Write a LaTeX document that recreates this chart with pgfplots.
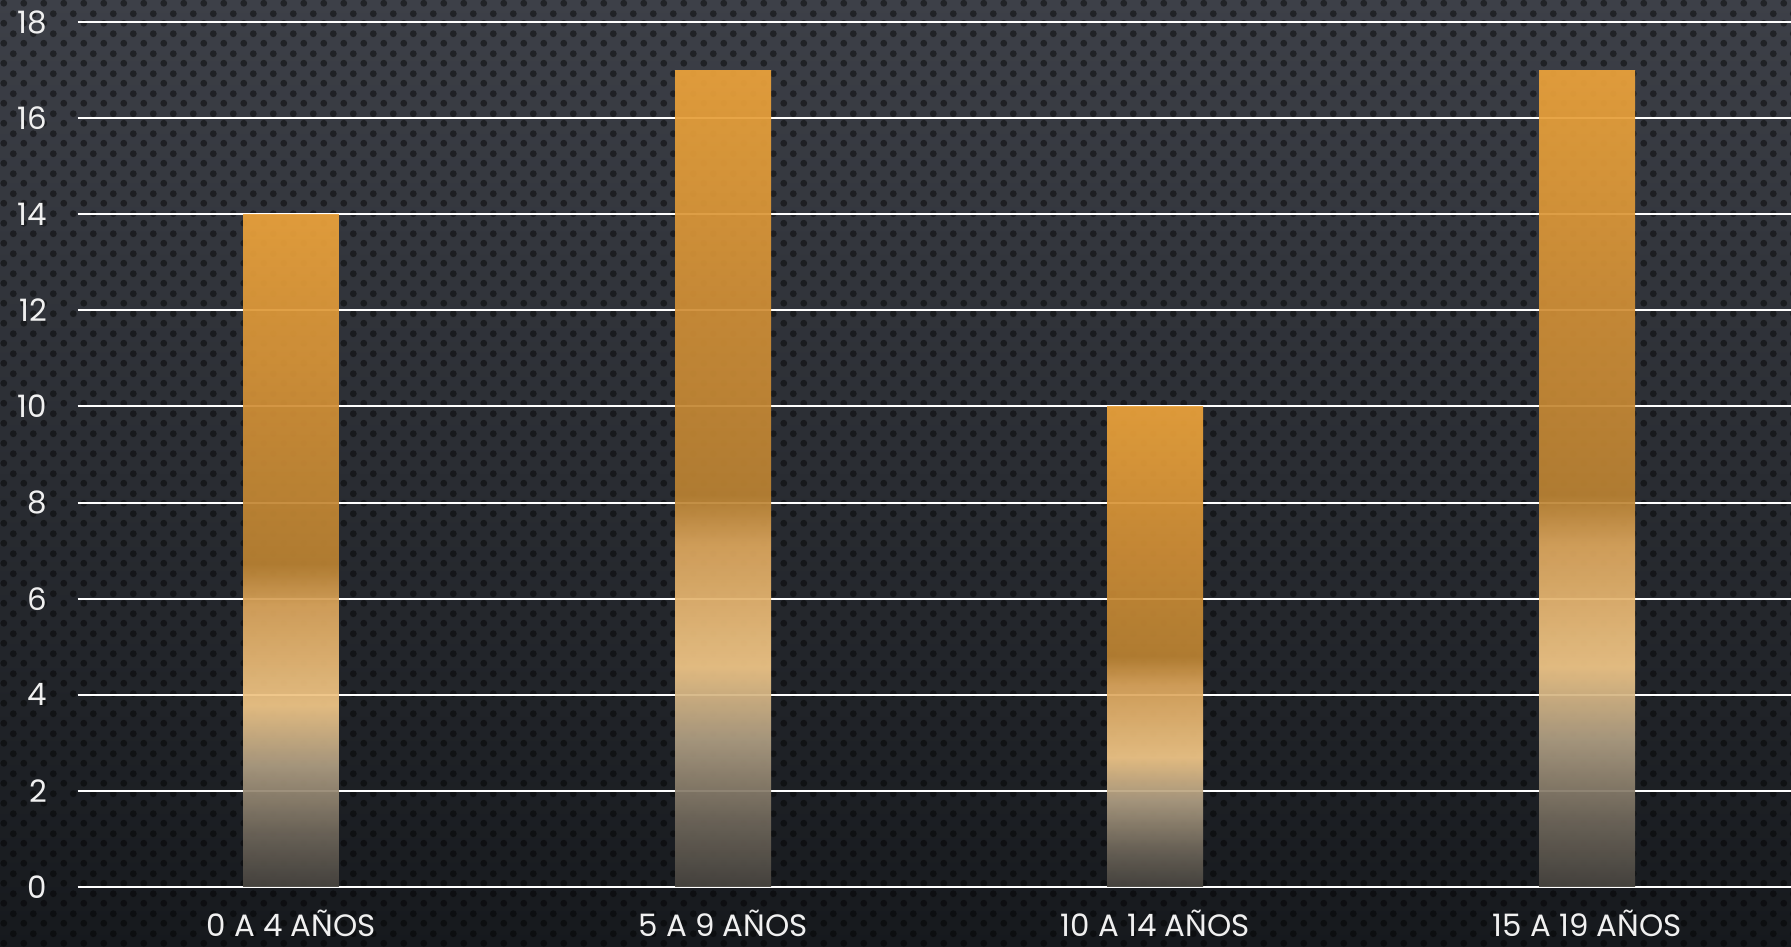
\documentclass[border=0pt]{standalone}
\usepackage{pgfplots}
\pgfplotsset{compat=1.18}
\usepackage{fontspec}
\setmainfont{Poppins}
\usetikzlibrary{patterns}
\definecolor{bgtop}{HTML}{3D4048}
\definecolor{bgbot}{HTML}{16191D}
\definecolor{b0}{HTML}{47443F}
\definecolor{ba}{HTML}{6E665A}
\definecolor{b1}{HTML}{AE9D82}
\definecolor{b2}{HTML}{F0C687}
\definecolor{b3}{HTML}{DBA55C}
\definecolor{b4}{HTML}{BA8232}
\definecolor{b5}{HTML}{CF8E36}
\definecolor{b6}{HTML}{ECA33B}
\pgfdeclareverticalshading{barshade}{100bp}{color(0bp)=(b0); color(25bp)=(b0); color(29bp)=(ba); color(34bp)=(b1); color(38.5bp)=(b2); color(46bp)=(b3); color(49bp)=(b4); color(60bp)=(b5); color(75bp)=(b6); color(100bp)=(b6)}
\pgfdeclarepatternformonly{hexdots}{\pgfqpoint{0bp}{0bp}}{\pgfqpoint{10bp}{10bp}}{\pgfqpoint{10bp}{10bp}}{%
  \pgfpathcircle{\pgfqpoint{2.5bp}{2.5bp}}{1.8bp}%
  \pgfpathcircle{\pgfqpoint{7.5bp}{7.5bp}}{1.8bp}%
  \pgfusepath{fill}}
\begin{document}
\begin{tikzpicture}
\fill[bottom color=bgbot, top color=bgtop] (-38.8bp,-30bp) rectangle (856.7bp,443.5bp);
\fill[pattern=hexdots, pattern color=black, opacity=0.45] (-38.8bp,-30bp) rectangle (856.7bp,443.5bp);
\begin{axis}[
  at={(0,0)}, anchor=south west,
  scale only axis, width=856.7bp, height=432.5bp,
  xmin=-0.494, xmax=3.472, ymin=0, ymax=18,
  ytick={0,2,...,18},
  xtick={0,1,2,3},
  xticklabels={0 A 4 AÑOS, 5 A 9 AÑOS, 10 A 14 AÑOS, 15 A 19 AÑOS},
  axis line style={draw=none}, tick style={draw=none},
  ymajorgrids, grid style={white, line width=1bp},
  /pgf/number format/assume math mode=true,
  ticklabel style={font=\fontsize{15.5}{17}\selectfont, text=white!94!black},
  yticklabel style={anchor=east, inner sep=0pt, xshift=-15bp},
  xticklabel style={anchor=north, inner sep=0pt, yshift=-11.5bp},
  clip=false,
]
\addplot[ybar, bar shift=0pt, bar width=0.222, draw=none, shading=barshade, fill opacity=0.93] coordinates {(0,14)};
\addplot[ybar, bar shift=0pt, bar width=0.222, draw=none, shading=barshade, fill opacity=0.93] coordinates {(1,17)};
\addplot[ybar, bar shift=0pt, bar width=0.222, draw=none, shading=barshade, fill opacity=0.93] coordinates {(2,10)};
\addplot[ybar, bar shift=0pt, bar width=0.222, draw=none, shading=barshade, fill opacity=0.93] coordinates {(3,17)};
\end{axis}
\pgfresetboundingbox
\path (-38.8bp,-30bp) rectangle (856.7bp,443.5bp);
\end{tikzpicture}
\end{document}
